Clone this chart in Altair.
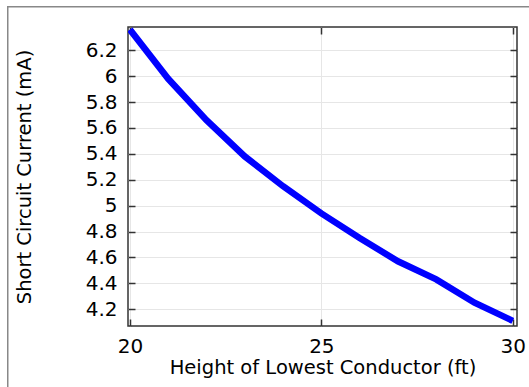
import altair as alt
import pandas as pd

heights = [20, 21, 22, 23, 24, 25, 26, 27, 28, 29, 30]
currents = [6.36, 5.98, 5.66, 5.38, 5.15, 4.94, 4.75, 4.57, 4.43, 4.25, 4.11]
x_ticks = [20, 25, 30]
y_ticks = [4.2, 4.4, 4.6, 4.8, 5.0, 5.2, 5.4, 5.6, 5.8, 6.0, 6.2]

W, H = 389, 299
FONT = "DejaVu Sans"

df = pd.DataFrame({"h": heights, "i": currents})
xs = alt.Scale(domain=[19.95, 30.11], nice=False, zero=False)
ys = alt.Scale(domain=[4.07, 6.38], nice=False, zero=False)

base = alt.Chart(df)

main = base.mark_line(color="#0000ff", strokeWidth=6.5, clip=True).encode(
    x=alt.X("h:Q", scale=xs, title="Height of Lowest Conductor (ft)",
            axis=alt.Axis(values=x_ticks, grid=True, ticks=False, domain=False,
                          labelPadding=10, titlePadding=2, labelFontSize=20,
                          titleFontSize=19.5)),
    y=alt.Y("i:Q", scale=ys, title="Short Circuit Current (mA)",
            axis=alt.Axis(values=y_ticks, format=".1~f", grid=True, ticks=False,
                          domain=False, labelPadding=11, titlePadding=51,
                          labelFontSize=20, titleFontSize=19.5)),
)

ticks_a = base.mark_line(opacity=0).encode(
    x=alt.X("h:Q", scale=xs, title="",
            axis=alt.Axis(orient="top", offset=-H, values=x_ticks, labels=False,
                          grid=False, domain=False, tickSize=7, tickWidth=1.5,
                          tickColor="#333333")),
    y=alt.Y("i:Q", scale=ys, title="",
            axis=alt.Axis(orient="left", offset=-W, values=y_ticks, labels=False,
                          grid=False, domain=False, tickSize=7, tickWidth=1.5,
                          tickColor="#333333")),
)

ticks_b = base.mark_line(opacity=0).encode(
    x=alt.X("h:Q", scale=xs, title="",
            axis=alt.Axis(orient="bottom", offset=-H, values=x_ticks, labels=False,
                          grid=False, domain=False, tickSize=7, tickWidth=1.5,
                          tickColor="#333333")),
    y=alt.Y("i:Q", scale=ys, title="",
            axis=alt.Axis(orient="right", offset=-W, values=y_ticks, labels=False,
                          grid=False, domain=False, tickSize=7, tickWidth=1.5,
                          tickColor="#333333")),
)

frame_src = alt.Chart(alt.Data(values=[{}]))
frame_left = frame_src.mark_rect(fill="#888888", strokeWidth=0).encode(
    x=alt.value(-121), x2=alt.value(-119.5), y=alt.value(-21), y2=alt.value(H + 61),
)
frame_top = frame_src.mark_rect(fill="#888888", strokeWidth=0).encode(
    x=alt.value(-121), x2=alt.value(W + 12), y=alt.value(-21), y2=alt.value(-19.5),
)

chart = alt.layer(frame_left, frame_top, main, ticks_a, ticks_b).resolve_axis(
    x="independent", y="independent"
).properties(
    width=W, height=H,
    autosize=alt.AutoSizeParams(type="none"),
    padding={"left": 128, "top": 27, "right": 12, "bottom": 61},
    background="white",
).configure_view(
    stroke="#333333", strokeWidth=1.5
).configure_axis(
    labelFont=FONT, titleFont=FONT, labelColor="black", titleColor="black",
    titleFontWeight="normal", gridColor="#e6e6e6", gridWidth=1,
)

chart.save("out.html", embed_options={"renderer": "svg", "actions": False})
